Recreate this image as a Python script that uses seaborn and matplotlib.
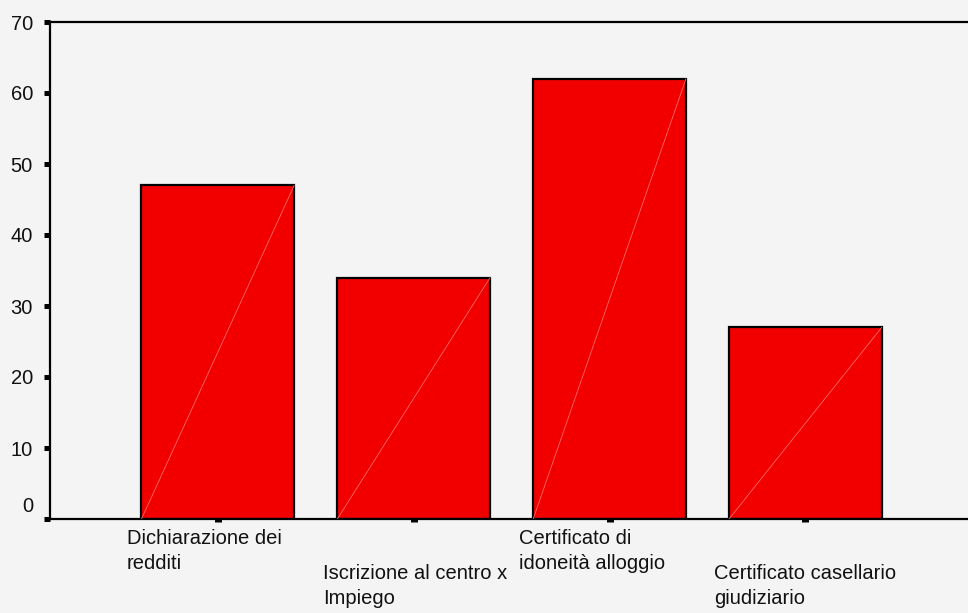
import matplotlib
matplotlib.use("Agg")
import matplotlib.pyplot as plt
from matplotlib.transforms import ScaledTranslation
import seaborn as sns
import pandas as pd

# Documenti richiesti (conteggi)
categorie = [
    "Dichiarazione dei\nredditi",
    "Iscrizione al centro x\nImpiego",
    "Certificato di\nidoneità alloggio",
    "Certificato casellario\ngiudiziario",
]
valori = [47, 34, 62, 27]
y_ticks = [0, 10, 20, 30, 40, 50, 60, 70]

sns.set_style("white")
plt.rcParams["font.family"] = ["Liberation Sans", "DejaVu Sans"]

BG = "#f4f4f4"
RED = "#f20000"

fig = plt.figure(figsize=(9.68, 6.13), dpi=100, facecolor=BG)
ax = fig.add_axes([50 / 968, 94 / 613, 1 - 50 / 968, 497 / 613])
ax.set_facecolor(BG)

df = pd.DataFrame({"categoria": categorie, "valore": valori})
sns.barplot(data=df, x="categoria", y="valore", color=RED, saturation=1,
            edgecolor="black", linewidth=1.6, width=0.78, ax=ax)

# thin light diagonal across each bar
for p in ax.patches:
    x0, y0 = p.get_x(), p.get_y()
    ax.plot([x0, x0 + p.get_width()], [y0, y0 + p.get_height()],
            color="#ff6a6a", lw=0.6, zorder=3)

ax.set_xlim(-0.857, 3.83)
ax.set_ylim(0, 70)
ax.set_xlabel("")
ax.set_ylabel("")

for side in ["left", "top", "bottom"]:
    ax.spines[side].set_visible(True)
    ax.spines[side].set_linewidth(1.6)
    ax.spines[side].set_color("black")
ax.spines["right"].set_visible(False)

ax.set_yticks(y_ticks)
ax.set_yticklabels([str(v) for v in y_ticks])
ax.tick_params(axis="y", left=True, direction="out", length=4.3, width=3.6,
               color="black", pad=8, labelsize=14.5, labelcolor="#111111")
ax.set_xticks(range(len(categorie)))
ax.tick_params(axis="x", bottom=True, direction="out", length=2.2, width=5,
               color="black", labelbottom=False)

# the zero label sits a little higher than the others
for lab in ax.get_yticklabels():
    if lab.get_text() == "0":
        lab.set_transform(lab.get_transform() +
                          ScaledTranslation(0, 0.14, fig.dpi_scale_trans))

# staggered category labels, left aligned under each bar
for i, txt in enumerate(categorie):
    drop = 0.10 if i % 2 == 0 else 0.45
    tr = ax.get_xaxis_transform() + ScaledTranslation(-0.91, -drop, fig.dpi_scale_trans)
    ax.text(i, 0, txt, transform=tr, ha="left", va="top", fontsize=14.5,
            color="#111111", linespacing=1.4, multialignment="left")

fig.savefig("out.png", dpi=100, facecolor=BG)
